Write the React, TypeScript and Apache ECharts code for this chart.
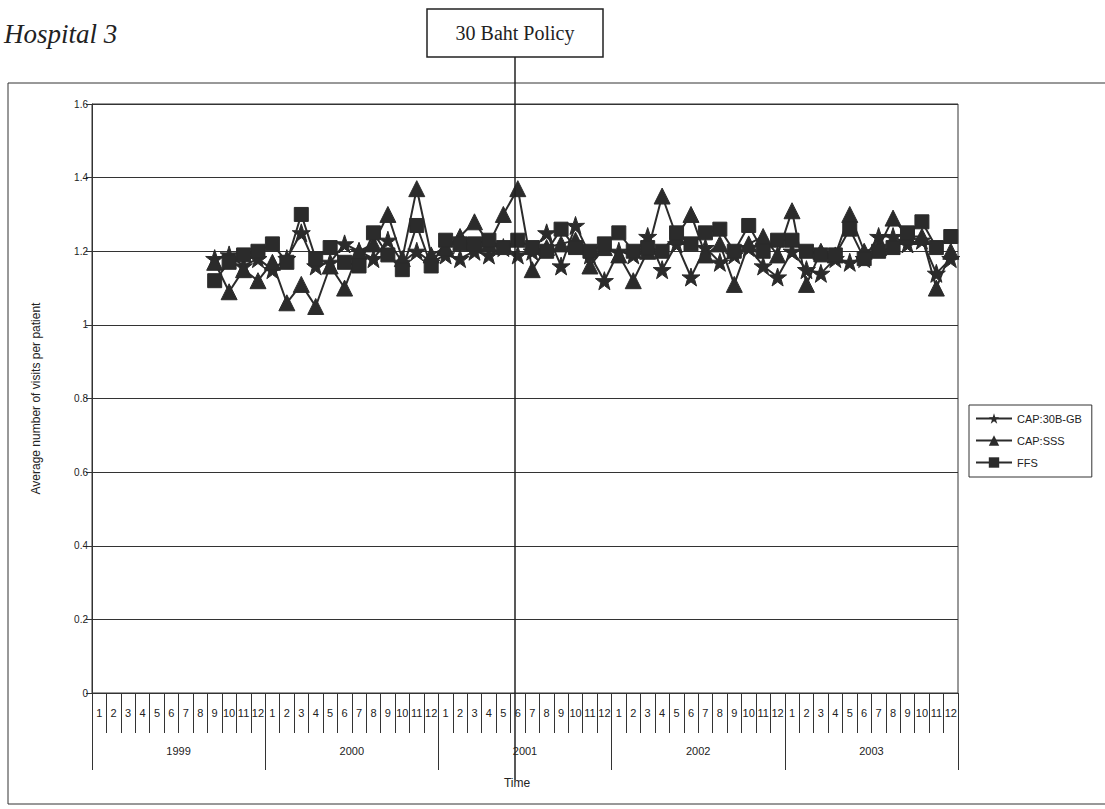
import React, { useEffect, useRef } from "react";
import * as echarts from "echarts";

const years = ["1999", "2000", "2001", "2002", "2003"];
const months = ["1", "2", "3", "4", "5", "6", "7", "8", "9", "10", "11", "12"];
const yTicks = [0, 0.2, 0.4, 0.6, 0.8, 1, 1.2, 1.4, 1.6];
// data starts at 1999 month 9 and runs to 2003 month 12
const startIndex = 8;
const cap30B = [
  1.18, 1.19, 1.16, 1.18, 1.15, 1.18, 1.25, 1.16, 1.17, 1.22, 1.2, 1.18, 1.23,
  1.17, 1.2, 1.17, 1.19, 1.18, 1.2, 1.19, 1.21, 1.19, 1.2, 1.25, 1.16, 1.27,
  1.19, 1.12, 1.2, 1.19, 1.24, 1.15, 1.22, 1.13, 1.21, 1.17, 1.19, 1.21, 1.16,
  1.13, 1.2, 1.15, 1.14, 1.18, 1.17, 1.18, 1.24, 1.24, 1.22, 1.23, 1.14, 1.18,
];
const capSSS = [
  1.17, 1.09, 1.15, 1.12, 1.17, 1.06, 1.11, 1.05, 1.16, 1.1, 1.2, 1.22, 1.3,
  1.18, 1.37, 1.19, 1.21, 1.24, 1.28, 1.22, 1.3, 1.37, 1.15, 1.21, 1.22, 1.23,
  1.16, 1.21, 1.19, 1.12, 1.2, 1.35, 1.24, 1.3, 1.19, 1.22, 1.11, 1.22, 1.24,
  1.19, 1.31, 1.11, 1.2, 1.19, 1.3, 1.2, 1.21, 1.29, 1.24, 1.24, 1.1, 1.2,
];
const ffs = [
  1.12, 1.17, 1.19, 1.2, 1.22, 1.17, 1.3, 1.18, 1.21, 1.17, 1.16, 1.25, 1.19,
  1.15, 1.27, 1.16, 1.23, 1.22, 1.22, 1.23, 1.21, 1.23, 1.21, 1.2, 1.26, 1.21,
  1.2, 1.22, 1.25, 1.2, 1.21, 1.2, 1.25, 1.22, 1.25, 1.26, 1.2, 1.27, 1.2,
  1.23, 1.23, 1.2, 1.19, 1.19, 1.26, 1.18, 1.2, 1.21, 1.25, 1.28, 1.21, 1.24,
];
const policyIndex = 29; // 2001 month 6

const STAR =
  "path://M50,0 L61.8,35.1 L97.6,34.5 L68.8,56.1 L79.4,90.5 L50,69.8 L20.6,90.5 L31.2,56.1 L2.4,34.5 L38.2,35.1 Z";

export default function App() {
  const ref = useRef<HTMLDivElement>(null);
  useEffect(() => {
    if (!ref.current) return;
    const chart = echarts.init(ref.current, null, { renderer: "svg" });
    const cats: string[] = [];
    years.forEach((y) => months.forEach((m) => cats.push(y + "-" + m)));
    const pad = (arr: number[]) => {
      const out: (number | null)[] = [];
      for (let i = 0; i < startIndex; i++) out.push(null);
      return out.concat(arr);
    };
    const ink = "#2b2b2b";
    const font = "Liberation Sans, Arial, sans-serif";
    const mk = (name: string, data: number[], symbol: string, size: number) => ({
      name,
      type: "line",
      data: pad(data),
      symbol,
      symbolSize: size,
      showAllSymbol: true,
      itemStyle: { color: ink, borderColor: ink },
      lineStyle: { color: "#2b2b2b", width: 2 },
      emphasis: { disabled: true },
    });
    chart.setOption({
      animation: false,
      backgroundColor: "#ffffff",
      grid: {
        left: 92,
        right: 147,
        top: 104,
        bottom: 116,
        show: true,
        borderColor: "#333",
        borderWidth: 1,
      },
      legend: {
        orient: "vertical",
        left: 969,
        top: 405,
        borderColor: "#333",
        borderWidth: 1,
        padding: [8, 10, 9, 6],
        itemGap: 11,
        itemWidth: 36,
        itemHeight: 13,
        textStyle: { fontFamily: font, fontSize: 11, color: "#222" },
        data: ["CAP:30B-GB", "CAP:SSS", "FFS"],
      },
      xAxis: [
        {
          type: "category",
          data: cats,
          boundaryGap: true,
          axisLine: { show: true, lineStyle: { color: "#333", width: 1 } },
          axisTick: {
            show: true,
            interval: 0,
            length: 40,
            lineStyle: { color: "#333" },
          },
          axisLabel: {
            interval: 0,
            margin: 14,
            fontSize: 11,
            fontFamily: font,
            color: "#222",
            formatter: (v: string) => v.split("-")[1],
          },
          splitLine: { show: false },
        },
        {
          type: "category",
          data: years,
          position: "bottom",
          boundaryGap: true,
          axisLine: { show: false },
          axisTick: {
            show: true,
            interval: 0,
            length: 77,
            lineStyle: { color: "#333" },
          },
          axisLabel: {
            interval: 0,
            margin: 52,
            fontSize: 11,
            fontFamily: font,
            color: "#222",
          },
          name: "Time",
          nameLocation: "middle",
          nameGap: 84,
          nameTextStyle: {
            fontFamily: font,
            fontSize: 12,
            color: "#222",
            padding: [0, 16, 0, 0],
          },
        },
      ],
      yAxis: {
        type: "value",
        min: yTicks[0],
        max: yTicks[yTicks.length - 1],
        interval: 0.2,
        axisLine: { show: true, lineStyle: { color: "#333" } },
        axisTick: { show: true, length: 6, lineStyle: { color: "#333" } },
        axisLabel: {
          margin: 4,
          fontSize: 10,
          fontFamily: font,
          color: "#222",
        },
        splitLine: { show: true, lineStyle: { color: "#333", width: 1 } },
        name: "Average number of visits per patient",
        nameLocation: "middle",
        nameGap: 50,
        nameTextStyle: { fontFamily: font, fontSize: 12, color: "#222" },
      },
      series: [
        mk("CAP:30B-GB", cap30B, STAR, 18),
        mk("CAP:SSS", capSSS, "triangle", 16),
        mk("FFS", ffs, "rect", 14),
      ],
    });
    const px = chart.convertToPixel({ xAxisIndex: 0 }, policyIndex) as number;
    const lx = Math.round(px) - 3;
    chart.setOption({
      graphic: [
        {
          type: "rect",
          shape: { x: 8, y: 83, width: 1110, height: 721 },
          style: { fill: "none", stroke: "#333", lineWidth: 1 },
          silent: true,
        },
        {
          type: "text",
          x: 4,
          y: 20,
          style: {
            text: "Hospital 3",
            font: "italic 27px 'Liberation Serif', 'Times New Roman', serif",
            fill: "#222",
          },
        },
        {
          type: "line",
          shape: { x1: lx, y1: 57, x2: lx, y2: 780 },
          style: { stroke: "#222", lineWidth: 1.5 },
          z: 100,
        },
        {
          type: "rect",
          shape: { x: lx - 88, y: 9, width: 176, height: 48 },
          style: { fill: "#fff", stroke: "#222", lineWidth: 1.5 },
          z: 100,
        },
        {
          type: "text",
          x: lx,
          y: 33,
          style: {
            text: "30 Baht Policy",
            font: "20px 'Liberation Serif', 'Times New Roman', serif",
            fill: "#222",
            align: "center",
            verticalAlign: "middle",
          },
          z: 101,
        },
      ],
    });
    return () => chart.dispose();
  }, []);
  return <div ref={ref} style={{ width: 1105, height: 809, position: "absolute", left: 0, top: 0 }} />;
}
